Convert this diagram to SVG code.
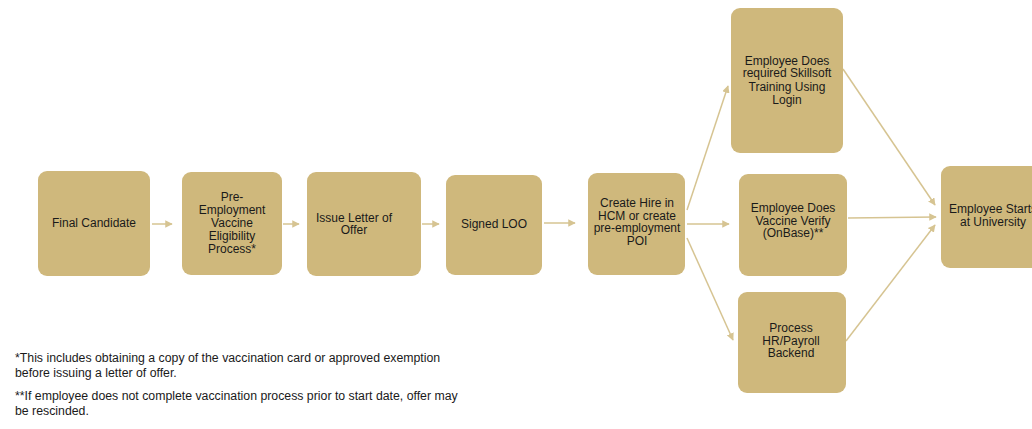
<svg xmlns="http://www.w3.org/2000/svg" width="1032" height="429" viewBox="0 0 1032 429">
<style>
.box{fill:#cfb87c;}
.t{font-family:"Liberation Sans",Arial,sans-serif;font-size:12px;fill:#1a1a1a;text-anchor:middle;}
.n{font-family:"Liberation Sans",Arial,sans-serif;font-size:12.3px;fill:#1a1a1a;}
.c{stroke:#d6c492;stroke-width:1.5;fill:none;marker-end:url(#ah);}
</style>
<defs>
<marker id="ah" viewBox="0 0 10 10" refX="9" refY="5" markerWidth="5" markerHeight="5" markerUnits="strokeWidth" orient="auto">
<path d="M0,0 L10,5 L0,10 z" fill="#d6c492"/>
</marker>
</defs>
<rect width="1032" height="429" fill="#ffffff"/>
<g id="connectors">
<line class="c" x1="152" y1="224" x2="172" y2="224"/>
<line class="c" x1="283" y1="224" x2="299" y2="224"/>
<line class="c" x1="422" y1="224" x2="439" y2="224"/>
<line class="c" x1="544" y1="223" x2="575" y2="223"/>
<line class="c" x1="687" y1="224" x2="729" y2="224"/>
<line class="c" x1="687" y1="210" x2="728" y2="86"/>
<line class="c" x1="687" y1="238" x2="733" y2="340"/>
<line class="c" x1="843" y1="69" x2="935" y2="205"/>
<line class="c" x1="848" y1="218" x2="936" y2="217"/>
<line class="c" x1="846" y1="341" x2="935" y2="225"/>
</g>
<g id="final-candidate">
<rect class="box" x="38" y="171" width="112" height="105" rx="9"/>
<text class="t" x="94" y="227">Final Candidate</text>
</g>
<g id="pre-employment">
<rect class="box" x="182" y="172" width="100" height="103" rx="9"/>
<text class="t" x="232" y="201">Pre-</text>
<text class="t" x="232" y="214">Employment</text>
<text class="t" x="232" y="227">Vaccine</text>
<text class="t" x="232" y="240">Eligibility</text>
<text class="t" x="232" y="253">Process*</text>
</g>
<g id="issue-letter">
<rect class="box" x="307" y="172" width="114" height="104" rx="9"/>
<text class="t" x="354" y="222">Issue Letter of</text>
<text class="t" x="354" y="234">Offer</text>
</g>
<g id="signed-loo">
<rect class="box" x="446" y="175" width="96" height="100" rx="9"/>
<text class="t" x="494" y="228">Signed LOO</text>
</g>
<g id="create-hire">
<rect class="box" x="588" y="173" width="97" height="102" rx="9"/>
<text class="t" x="637" y="207">Create Hire in</text>
<text class="t" x="637" y="220">HCM or create</text>
<text class="t" x="637" y="232">pre-employment</text>
<text class="t" x="637" y="245">POI</text>
</g>
<g id="skillsoft">
<rect class="box" x="731" y="8" width="112" height="145" rx="9"/>
<text class="t" x="787" y="65">Employee Does</text>
<text class="t" x="787" y="77">required Skillsoft</text>
<text class="t" x="787" y="91">Training Using</text>
<text class="t" x="787" y="104">Login</text>
</g>
<g id="vaccine-verify">
<rect class="box" x="739" y="174" width="108" height="102" rx="9"/>
<text class="t" x="793" y="212">Employee Does</text>
<text class="t" x="793" y="225">Vaccine Verify</text>
<text class="t" x="793" y="237">(OnBase)**</text>
</g>
<g id="process-hr">
<rect class="box" x="738" y="292" width="108" height="101" rx="9"/>
<text class="t" x="791" y="332">Process</text>
<text class="t" x="791" y="345">HR/Payroll</text>
<text class="t" x="791" y="357">Backend</text>
</g>
<g id="employee-starts">
<rect class="box" x="941" y="166" width="104" height="102" rx="9"/>
<text class="t" x="993" y="213">Employee Starts</text>
<text class="t" x="993" y="226">at University</text>
</g>
<g id="notes">
<text class="n" x="15" y="362">*This includes obtaining a copy of the vaccination card or approved exemption</text>
<text class="n" x="15" y="377">before issuing a letter of offer.</text>
<text class="n" x="15" y="400">**If employee does not complete vaccination process prior to start date, offer may</text>
<text class="n" x="15" y="415">be rescinded.</text>
</g>
</svg>
